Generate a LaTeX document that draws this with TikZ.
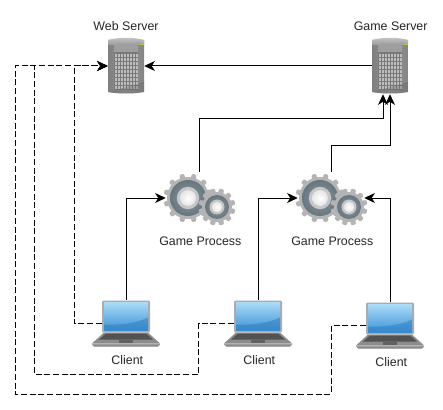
\documentclass[tikz,border=0pt]{standalone}
\usepackage{fontspec}
\setmainfont{Liberation Sans}
\usetikzlibrary{arrows.meta}
\definecolor{gearrim}{HTML}{B4B4B4}
\definecolor{geardark}{HTML}{66767E}
\definecolor{gearmid}{HTML}{8E9CA2}
\definecolor{screentop}{HTML}{A9DBF7}
\definecolor{screenlow}{HTML}{3D93D6}
\definecolor{screenswoosh}{HTML}{2F7FC4}
\definecolor{ledgreen}{HTML}{B5CF3A}
\tikzset{
  hostbox/.style={minimum width=27pt,minimum height=42pt,inner sep=0pt},
  procbox/.style={minimum width=49.5pt,minimum height=39pt,inner sep=0pt},
  clientbox/.style={minimum width=51pt,minimum height=34.5pt,inner sep=0pt},
  every label/.style={font=\fontsize{9.3}{11}\selectfont,text=black!85,inner sep=0pt,label distance=5pt},
  link/.style={line width=0.75pt,-{Stealth[length=8pt,width=7.5pt,inset=2.4pt]}},
  dashlink/.style={link,dash pattern=on 4.5pt off 2pt},
  pics/servericon/.style={code={
    \shade[left color=black!50,right color=black!48,middle color=black!42] (-18,-26) -- (-18,26) .. controls (-8,28) and (8,28) .. (18,26) -- (18,-26) -- cycle;
    \shade[top color=black!22,bottom color=black!40] (-18,-26) .. controls (-8,-29) and (8,-29) .. (18,-26) -- (18,-21) -- (-18,-21) -- cycle;
    \fill[black!38] (-12,-21) rectangle (12,-14);
    \fill[black!52] (-12,-14) rectangle (12,24);
    \foreach \gx in {-11,-8,-5,-2,1,4,7,10}
      \foreach \gy in {-12,-8,-4,0,4,8,12,16,20}
        \fill[black!26] (\gx,\gy) rectangle ++(2,2.6);
    \fill[black!60,opacity=0.35] (-18,26) -- (18,16) -- (18,26) .. controls (8,28) and (-8,28) .. (-18,26) -- cycle;
    \fill[ledgreen] (13.5,-25) rectangle (18,-23.5);
    \fill[ledgreen] (13.5,-22) rectangle (18,-20.5);
  }},
  pics/gearwheel/.style={code={
    \foreach \ang in {0,30,...,330}
      \fill[rotate=\ang+15,gearrim,rounded corners=0.8pt] (-3.4,0) -- (-2.4,#1+6.5) -- (2.4,#1+6.5) -- (3.4,0) -- cycle;
    \fill[gearrim] (0,0) circle ({#1+3});
    \shade[inner color=gearmid,outer color=geardark] (0,0) circle (#1);
    \fill[black!22] (0,0) circle ({#1*0.62});
    \shade[inner color=white,outer color=black!10] (0,0) circle ({#1*0.44});
  }},
  pics/gearicon/.style={code={
    \pic at (-11,0) {gearwheel=18};
    \pic at (18,9) {gearwheel=12};
  }},
  pics/clienticon/.style={code={
    \fill[black!45] (-22,9) -- (22,9) -- (34,20) -- (-34,20) -- cycle;
    \fill[black!68] (-20,10) -- (20,10) -- (27,16) -- (-27,16) -- cycle;
    \fill[black!62] (-7,16.5) rectangle (7,19.5);
    \shade[top color=black!35,bottom color=black!55] (-34,20) -- (34,20) -- (34,21) -- (32,23) -- (-32,23) -- (-34,21) -- cycle;
    \fill[black!33,rounded corners=1pt] (-24,-23) rectangle (24,9);
    \shade[top color=screentop,bottom color=screenlow] (-22,-21) rectangle (22,7);
    \fill[screenswoosh,opacity=0.55] (-22,1) .. controls (-5,2) and (12,-1) .. (22,-6) -- (22,7) -- (-22,7) -- cycle;
  }},
}
\begin{document}
\begin{tikzpicture}[x=0.75pt,y=-0.75pt]
  \useasboundingbox (0,0) rectangle (443,410);
  \node[hostbox,label=above:{Web Server}] (web) at (126,66) {};
  \node[hostbox,label={[xshift=0.5pt]above:{Game Server}}] (game) at (390,66) {};
  \node[procbox,label={[xshift=1pt,yshift=-4pt]below:{Game Process}}] (proc1) at (199,198) {};
  \node[procbox,label={[xshift=1pt,yshift=-4pt]below:{Game Process}}] (proc2) at (331,198) {};
  \node[clientbox,label={[xshift=1pt,yshift=-1pt]below:{Client}}] (client1) at (126,323.5) {};
  \node[clientbox,label={[xshift=1pt,yshift=-1pt]below:{Client}}] (client2) at (258,323.5) {};
  \node[clientbox,label={[xshift=1pt,yshift=-1pt]below:{Client}}] (client3) at (390,325.5) {};
  \coordinate (bus1) at (74,66);
  \coordinate (bus2) at (34,66);
  \coordinate (bus3) at (15,66);
  \draw[link] (game.west) -- (web.east);
  \draw[link] (proc1.north) -- ++(0,-53) -| ([xshift=-5.25pt]game.south);
  \draw[link] (proc2.north) -- ++(0,-26) -| (game.south);
  \draw[link] (client1.north) |- (proc1.west);
  \draw[link] (client2.north) |- (proc2.west);
  \draw[link] (client3.north) |- (proc2.east);
  \draw[dashlink] ([xshift=7.5pt]client1.west) -| (bus1) -- (web.west);
  \draw[dashlink] ([xshift=7.5pt]client2.west) -- ++(-35,0) -- ++(0,50.5) -| (bus2) -- (web.west);
  \draw[dashlink] ([xshift=7.5pt]client3.west) -- ++(-34.5,0) -- ++(0,68.5) -| (bus3) -- (web.west);
  \pic at (web) {servericon};
  \pic at (game) {servericon};
  \pic at (proc1) {gearicon};
  \pic at (proc2) {gearicon};
  \pic at (client1) {clienticon};
  \pic at (client2) {clienticon};
  \pic at (client3) {clienticon};
\end{tikzpicture}
\end{document}
